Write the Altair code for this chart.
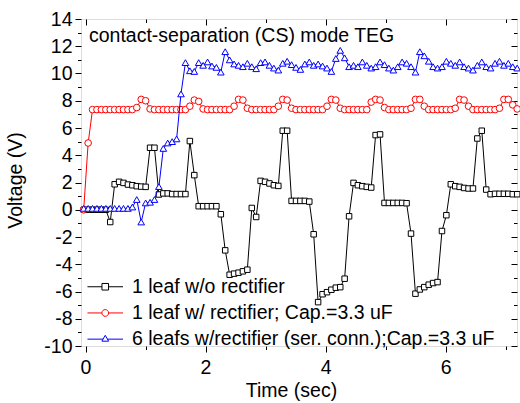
import altair as alt
import pandas as pd

# ---------------- data ----------------
time_s = [
    -0.030, 0.044, 0.117, 0.191, 0.265, 0.339, 0.412, 0.486, 0.560, 0.633,
    0.707, 0.781, 0.854, 0.928, 1.002, 1.076, 1.149, 1.223, 1.297, 1.370,
    1.444, 1.518, 1.591, 1.665, 1.739, 1.813, 1.886, 1.960, 2.034, 2.107,
    2.181, 2.255, 2.328, 2.402, 2.476, 2.550, 2.623, 2.697, 2.771, 2.844,
    2.918, 2.992, 3.065, 3.139, 3.213, 3.287, 3.360, 3.434, 3.508, 3.581,
    3.655, 3.729, 3.802, 3.876, 3.950, 4.024, 4.097, 4.171, 4.245, 4.318,
    4.392, 4.466, 4.539, 4.613, 4.687, 4.761, 4.834, 4.908, 4.982, 5.055,
    5.129, 5.203, 5.276, 5.350, 5.424, 5.498, 5.571, 5.645, 5.719, 5.792,
    5.866, 5.940, 6.013, 6.087, 6.161, 6.234, 6.308, 6.382, 6.456, 6.529,
    6.603, 6.677, 6.750, 6.824, 6.898, 6.972, 7.045, 7.119, 7.193,
]

v_black = [
    0.0, 0.0, 0.0, 0.0, 0.0, 0.0, -0.9, 1.87, 2.05, 1.97,
    1.85, 1.8, 1.73, 1.7, 1.68, 4.55, 4.55, 1.12, 1.2, 1.2,
    1.15, 1.15, 1.15, 1.15, 5.04, 2.54, 0.26, 0.26, 0.26, 0.26,
    0.26, -0.33, -2.98, -4.77, -4.69, -4.62, -4.52, -4.40, 0.13, -0.53,
    2.12, 2.05, 1.93, 1.80, 1.75, 5.8, 5.8, 0.65, 0.65, 0.65,
    0.65, 0.6, -1.8, -6.78, -6.2, -6.05, -5.87, -5.72, -5.68, -5.06,
    -0.48, 1.97, 1.8, 1.73, 1.68, 1.63, 5.48, 5.53, 0.5, 0.5,
    0.5, 0.5, 0.5, 0.48, -1.75, -6.16, -5.85, -5.68, -5.5, -5.38,
    -5.31, -1.56, -0.4, 1.87, 1.73, 1.68, 1.6, 1.56, 1.56, 5.23,
    5.8, 1.48, 1.14, 1.17, 1.17, 1.17, 1.17, 1.14, 1.14,
]

v_red = [
    0.0, 4.9, 7.35, 7.35, 7.35, 7.35, 7.35, 7.35, 7.35, 7.35,
    7.35, 7.35, 7.5, 8.1, 8.0, 7.4, 7.35, 7.35, 7.35, 7.35,
    7.35, 7.35, 7.35, 7.35, 7.6, 8.05, 7.95, 7.4, 7.35, 7.35,
    7.35, 7.35, 7.35, 7.35, 7.6, 8.1, 8.05, 7.45, 7.35, 7.35,
    7.35, 7.35, 7.35, 7.35, 7.6, 8.1, 8.05, 7.45, 7.35, 7.35,
    7.35, 7.35, 7.35, 7.35, 7.35, 7.6, 8.1, 8.05, 7.45, 7.35,
    7.35, 7.35, 7.35, 7.35, 7.35, 7.9, 8.1, 8.05, 7.5, 7.35,
    7.35, 7.35, 7.35, 7.35, 7.45, 8.1, 8.1, 7.6, 7.35, 7.35,
    7.35, 7.35, 7.35, 7.35, 7.45, 8.1, 8.05, 7.6, 7.35, 7.35,
    7.35, 7.35, 7.35, 7.35, 7.45, 8.1, 8.1, 7.7, 7.4,
]

v_blue = [
    0.1, 0.1, 0.1, 0.1, 0.1, 0.1, 0.1, 0.1, 0.1, 0.1,
    0.1, 0.2, 0.75, -0.9, 0.5, 0.55, 0.75, 1.7, 4.5, 4.9,
    5.0, 5.2, 8.5, 10.8, 10.2, 10.15, 10.8, 10.6, 10.85, 10.55,
    10.45, 10.1, 11.6, 11.0, 10.7, 10.6, 10.5, 10.75, 10.5, 10.35,
    10.8, 10.85, 10.6, 10.4, 10.25, 10.75, 10.9, 10.65, 10.45, 10.3,
    10.7, 10.85, 10.6, 10.7, 10.55, 10.4, 10.15, 11.1, 11.7, 11.15,
    10.5, 10.6, 10.5, 10.85, 10.6, 10.4, 10.5, 10.85, 10.65, 10.4,
    10.25, 10.5, 10.85, 10.75, 10.5, 10.1, 11.6, 11.3, 10.9, 10.5,
    10.4, 10.5, 10.9, 10.75, 10.6, 10.85, 10.5, 10.4, 10.25, 10.6,
    10.85, 10.5, 10.4, 10.75, 10.9, 10.6, 10.75, 10.5, 10.4,
]

series_names = [
    "1 leaf w/o rectifier",
    "1 leaf w/ rectifier; Cap.=3.3 uF",
    "6 leafs w/rectifier (ser. conn.);Cap.=3.3 uF",
]
series_colors = ["#000000", "#ff0000", "#0000ff"]

x_ticks_major = [0, 2, 4, 6]
x_ticks_minor = [1, 3, 5, 7]
y_ticks_major = [-10, -8, -6, -4, -2, 0, 2, 4, 6, 8, 10, 12, 14]
y_ticks_minor = [-9, -7, -5, -3, -1, 1, 3, 5, 7, 9, 11, 13]

note_text = "contact-separation (CS) mode TEG"
note_t = 0.058
note_v = 12.28

# ---------------- tables ----------------
df_black = pd.DataFrame({"t": time_s, "v": v_black, "series": series_names[0]})
df_red = pd.DataFrame({"t": time_s, "v": v_red, "series": series_names[1]})
df_blue = pd.DataFrame({"t": time_s, "v": v_blue, "series": series_names[2]})
df_all = pd.concat([df_black, df_red, df_blue], ignore_index=True)

# ---------------- styling ----------------
FONT = "Liberation Sans"
FS = 19.5

x_scale = alt.Scale(domain=[-0.075, 7.19], nice=False, zero=False)
y_scale = alt.Scale(domain=[-10, 14], nice=False, zero=False)


def ax(**kw):
    base = dict(grid=False, domain=False, tickColor="black", tickWidth=1,
                labelFont=FONT, labelFontSize=FS, labelColor="black",
                titleFont=FONT, titleFontSize=FS, titleColor="black",
                titleFontWeight="normal")
    base.update(kw)
    return alt.Axis(**base)


x_bottom = ax(orient="bottom", values=x_ticks_major, tickSize=6, labelPadding=21,
              labelBaseline="alphabetic", format="d",
              titleX=210, titleY=50, titleAlign="center", titleBaseline="alphabetic")
x_bottom_minor = ax(orient="bottom", values=x_ticks_minor, tickSize=3.5, labels=False)
x_top = ax(orient="top", values=x_ticks_major, tickSize=6, offset=-6, labels=False)
x_top_minor = ax(orient="top", values=x_ticks_minor, tickSize=3.5, offset=-3.5, labels=False)

y_left = ax(orient="left", values=y_ticks_major, tickSize=6, labelPadding=3,
            labelExpr="datum.value < 0 ? '-' + abs(datum.value) : '' + datum.value",
            titleX=-60, titleY=161, titleAngle=270, titleAlign="center",
            titleBaseline="alphabetic")
y_left_minor = ax(orient="left", values=y_ticks_minor, tickSize=3.5, labels=False)
y_right = ax(orient="right", values=y_ticks_major, tickSize=6, offset=-6, labels=False)
y_right_minor = ax(orient="right", values=y_ticks_minor, tickSize=3.5, offset=-3.5, labels=False)


def enc_x(axis, title=None):
    if axis is None:
        return alt.X("t:Q", scale=x_scale, axis=None)
    return alt.X("t:Q", scale=x_scale, axis=axis, title=title)


def enc_y(axis, title=None):
    if axis is None:
        return alt.Y("v:Q", scale=y_scale, axis=None)
    return alt.Y("v:Q", scale=y_scale, axis=axis, title=title)


line_black = alt.Chart(df_black).mark_line(color=series_colors[0], strokeWidth=1).encode(
    x=enc_x(x_bottom, "Time (sec)"), y=enc_y(y_left, "Voltage (V)"))
pts_black = alt.Chart(df_black).mark_point(
    shape="square", size=30, filled=True, fill="white", stroke=series_colors[0],
    strokeWidth=1, opacity=1).encode(x=enc_x(x_bottom_minor), y=enc_y(y_left_minor))

line_red = alt.Chart(df_red).mark_line(color=series_colors[1], strokeWidth=1).encode(
    x=enc_x(x_top), y=enc_y(y_right))
pts_red = alt.Chart(df_red).mark_point(
    shape="circle", size=44, filled=True, fill="white", stroke=series_colors[1],
    strokeWidth=1, opacity=1).encode(x=enc_x(x_top_minor), y=enc_y(y_right_minor))

line_blue = alt.Chart(df_blue).mark_line(color=series_colors[2], strokeWidth=1).encode(
    x=enc_x(None), y=enc_y(None))
pts_blue = alt.Chart(df_blue).mark_point(
    shape="triangle-up", size=44, filled=True, fill="white", stroke=series_colors[2],
    strokeWidth=1, opacity=1).encode(x=enc_x(None), y=enc_y(None))

legend_paths = [
    "M-3.95,0H-0.73M0.73,0H3.95M-0.73,-0.73H0.73V0.73H-0.73Z",
    "M-3.95,0H-0.75M0.75,0H3.95M-0.75,0A0.75,0.75,0,1,0,0.75,0A0.75,0.75,0,1,0,-0.75,0Z",
    "M-3.95,0H-0.49M0.49,0H3.95M0,-0.85L0.75,0.45H-0.75Z",
]

leg = alt.Legend(title=None, orient="none", legendX=14.5, legendY=258, padding=0,
                 symbolSize=81, symbolStrokeWidth=1, symbolOpacity=1,
                 labelFont=FONT, labelFontSize=FS, labelColor="black",
                 labelOffset=17, labelLimit=600, rowPadding=5.2)

legend_layer = alt.Chart(df_all).mark_point(opacity=0, size=81).encode(
    x=enc_x(None), y=enc_y(None),
    color=alt.Color("series:N", scale=alt.Scale(domain=series_names, range=series_colors),
                    legend=leg),
    shape=alt.Shape("series:N", scale=alt.Scale(domain=series_names, range=legend_paths),
                    legend=leg),
)

note = alt.Chart(pd.DataFrame({"label": [note_text]})).mark_text(
    align="left", baseline="alphabetic", font=FONT, fontSize=FS, color="black").encode(
    x=alt.XDatum(note_t, type="quantitative", scale=x_scale, axis=None),
    y=alt.YDatum(note_v, type="quantitative", scale=y_scale, axis=None),
    text="label:N",
)

chart = alt.layer(
    line_black, pts_black, line_red, pts_red, line_blue, pts_blue, legend_layer, note
).properties(
    width=436, height=327,
    autosize=alt.AutoSizeParams(type="none"),
    padding={"left": 81, "top": 19, "right": 3, "bottom": 57},
    background="white",
).resolve_axis(
    x="independent", y="independent"
).configure_view(
    stroke="black", strokeWidth=1.2
).configure(font=FONT)

chart.save("out.html", embed_options={"renderer": "svg", "actions": False})
